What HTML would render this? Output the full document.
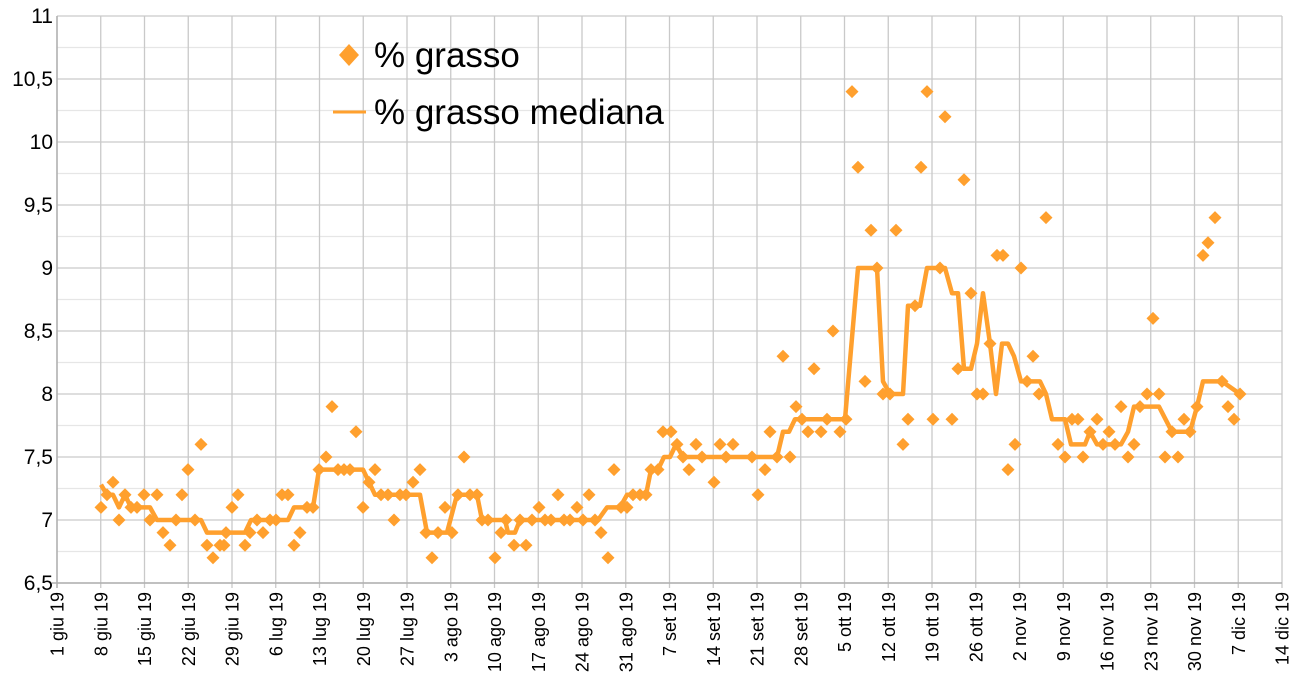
<!DOCTYPE html>
<html><head><meta charset="utf-8">
<style>
html,body{margin:0;padding:0;background:#fff;}
svg{display:block;font-family:"Liberation Sans",Arial,sans-serif;}
</style></head>
<body>
<svg id="c" width="1302" height="684" viewBox="0 0 1302 684" xmlns="http://www.w3.org/2000/svg"></svg>
<script>
const svg=document.getElementById('c');
const NS='http://www.w3.org/2000/svg';
function el(t,a,txt){const e=document.createElementNS(NS,t);for(const k in a)e.setAttribute(k,a[k]);if(txt!==undefined)e.textContent=txt;svg.appendChild(e);return e;}
const X0=57,DX=43.75,Y0=583,K=126;
const Y=v=>Y0-(v-6.5)*K;
for(let v=6.75;v<11;v+=0.5) el('line',{x1:X0,x2:X0+28*DX,y1:Y(v),y2:Y(v),stroke:'#e6e6e6','stroke-width':1.2});
for(let v=6.5;v<=11.001;v+=0.5) el('line',{x1:X0,x2:X0+28*DX,y1:Y(v),y2:Y(v),stroke:'#c9c9c9','stroke-width':1.3});
for(let i=0;i<=28;i++) el('line',{x1:X0+i*DX,x2:X0+i*DX,y1:Y(11),y2:Y0+5,stroke:'#c9c9c9','stroke-width':1.3});
el('line',{x1:X0,x2:X0,y1:Y(11),y2:Y0+5,stroke:'#b0b0b0','stroke-width':1.5});
el('line',{x1:X0-5,x2:X0+28*DX,y1:Y0,y2:Y0,stroke:'#b0b0b0','stroke-width':1.5});
const yl=['6,5','7','7,5','8','8,5','9','9,5','10','10,5','11'];
yl.forEach((t,i)=>el('text',{x:53,y:Y(6.5+i*0.5)+7,'text-anchor':'end','font-size':21,fill:'#000'},t));
const xl=['1 giu 19','8 giu 19','15 giu 19','22 giu 19','29 giu 19','6 lug 19','13 lug 19','20 lug 19','27 lug 19','3 ago 19','10 ago 19','17 ago 19','24 ago 19','31 ago 19','7 set 19','14 set 19','21 set 19','28 set 19','5 ott 19','12 ott 19','19 ott 19','26 ott 19','2 nov 19','9 nov 19','16 nov 19','23 nov 19','30 nov 19','7 dic 19','14 dic 19'];
xl.forEach((t,i)=>{const x=X0+i*DX+6.5;el('text',{x:x,y:592,'text-anchor':'end','font-size':18,fill:'#000',transform:`rotate(-90 ${x} 592)`},t);});
const C='#ffa02e';
const line=[[101,7.28],[107,7.2],[113,7.2],[119,7.1],[125,7.2],[131,7.1],[150,7.1],[157,7.0],[201,7.0],[207,6.9],[245,6.9],[251,7.0],[288,7.0],[294,7.1],[313,7.1],[319,7.4],[363,7.4],[369,7.3],[375,7.2],[420,7.2],[427,6.9],[447,6.9],[457,7.2],[477,7.2],[482,7.0],[505,7.0],[508,6.9],[515,6.9],[520,7.0],[598,7.0],[607,7.1],[620,7.1],[627,7.2],[646,7.2],[651,7.4],[658,7.4],[664,7.5],[670,7.5],[676,7.6],[683,7.5],[777,7.5],[783,7.7],[789,7.7],[795,7.8],[845,7.8],[858,9.0],[877,9.0],[883,8.1],[890,8.0],[903,8.0],[908,8.7],[920,8.7],[927,9.0],[945,9.0],[952,8.8],[958,8.8],[964,8.2],[971,8.2],[977,8.4],[983,8.8],[990,8.4],[996,8.0],[1002,8.4],[1008,8.4],[1014,8.3],[1021,8.1],[1040,8.1],[1046,8.0],[1052,7.8],[1065,7.8],[1071,7.6],[1085,7.6],[1090,7.7],[1097,7.6],[1121,7.6],[1128,7.7],[1134,7.9],[1159,7.9],[1172,7.7],[1190,7.7],[1197,7.9],[1203,8.1],[1222,8.1],[1240,8.0]];
el('polyline',{points:line.map(p=>p[0]+','+Y(p[1]).toFixed(1)).join(' '),fill:'none',stroke:C,'stroke-width':4.5,'stroke-linejoin':'round'});
const pts=[[101,7.1],[107,7.2],[113,7.3],[119,7.0],[125,7.2],[131,7.1],[137,7.1],[144,7.2],[150,7.0],[157,7.2],[163,6.9],[170,6.8],[176,7.0],[182,7.2],[188,7.4],[195,7.0],[201,7.6],[207,6.8],[213,6.7],[220,6.8],[224,6.8],[226,6.9],[232,7.1],[238,7.2],[245,6.8],[250,6.9],[257,7.0],[263,6.9],[270,7.0],[276,7.0],[282,7.2],[288,7.2],[294,6.8],[300,6.9],[307,7.1],[313,7.1],[319,7.4],[326,7.5],[332,7.9],[338,7.4],[344,7.4],[350,7.4],[356,7.7],[363,7.1],[369,7.3],[375,7.4],[381,7.2],[388,7.2],[394,7.0],[400,7.2],[406,7.2],[413,7.3],[420,7.4],[426,6.9],[432,6.7],[438,6.9],[445,7.1],[452,6.9],[458,7.2],[464,7.5],[470,7.2],[477,7.2],[482,7.0],[488,7.0],[495,6.7],[501,6.9],[506,7.0],[514,6.8],[520,7.0],[526,6.8],[532,7.0],[539,7.1],[545,7.0],[551,7.0],[558,7.2],[564,7.0],[570,7.0],[577,7.1],[583,7.0],[589,7.2],[595,7.0],[601,6.9],[608,6.7],[614,7.4],[621,7.1],[627,7.1],[633,7.2],[640,7.2],[646,7.2],[651,7.4],[658,7.4],[663,7.7],[671,7.7],[677,7.6],[683,7.5],[689,7.4],[696,7.6],[702,7.5],[714,7.3],[720,7.6],[726,7.5],[733,7.6],[752,7.5],[758,7.2],[765,7.4],[770,7.7],[777,7.5],[783,8.3],[790,7.5],[796,7.9],[802,7.8],[808,7.7],[814,8.2],[821,7.7],[827,7.8],[833,8.5],[840,7.7],[846,7.8],[852,10.4],[858,9.8],[865,8.1],[871,9.3],[877,9.0],[883,8.0],[890,8.0],[896,9.3],[903,7.6],[908,7.8],[915,8.7],[921,9.8],[927,10.4],[933,7.8],[940,9.0],[945,10.2],[952,7.8],[958,8.2],[964,9.7],[971,8.8],[977,8.0],[983,8.0],[990,8.4],[997,9.1],[1003,9.1],[1008,7.4],[1015,7.6],[1021,9.0],[1027,8.1],[1033,8.3],[1039,8.0],[1046,9.4],[1058,7.6],[1065,7.5],[1072,7.8],[1078,7.8],[1083,7.5],[1090,7.7],[1097,7.8],[1103,7.6],[1109,7.7],[1115,7.6],[1121,7.9],[1128,7.5],[1134,7.6],[1140,7.9],[1147,8.0],[1153,8.6],[1159,8.0],[1165,7.5],[1172,7.7],[1178,7.5],[1184,7.8],[1190,7.7],[1197,7.9],[1203,9.1],[1208,9.2],[1215,9.4],[1222,8.1],[1228,7.9],[1234,7.8],[1240,8.0]];
const d=6.5;
pts.forEach(p=>{const x=p[0],y=Y(p[1]);el('polygon',{points:`${x},${y-d} ${x+d},${y} ${x},${y+d} ${x-d},${y}`,fill:C});});
el('polygon',{points:'349,44 359,55 349,66 339,55',fill:C});
el('text',{x:374,y:67,'font-size':35,fill:'#000'},'% grasso');
el('line',{x1:333,x2:366,y1:112,y2:112,stroke:C,'stroke-width':3});
el('text',{x:374,y:124,'font-size':35,fill:'#000'},'% grasso mediana');
</script>
</body></html>
